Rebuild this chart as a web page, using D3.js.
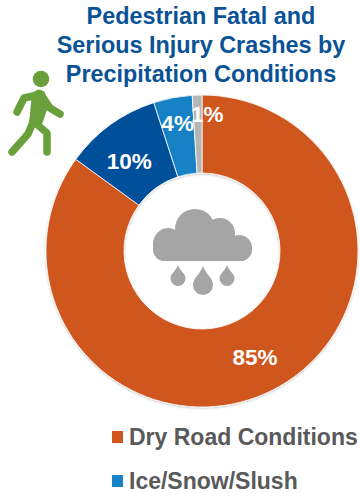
<!DOCTYPE html>
<html><head><meta charset="utf-8">
<script src="https://cdnjs.cloudflare.com/ajax/libs/d3/7.8.5/d3.min.js"></script>
<style>html,body{margin:0;padding:0;background:#fff}svg{display:block}text{font-family:"Liberation Sans",Arial,sans-serif;font-weight:bold}</style>
</head><body><svg id="c" width="360" height="493"></svg>
<script>
const titleLines = ["Pedestrian Fatal and","Serious Injury Crashes by","Precipitation Conditions"];
const categories = ["Dry Road Conditions","Wet Road Conditions","Ice/Snow/Slush","Other"];
const values = [85,10,4,1];
const colors = ["#cf561f","#044f9b","#1782c5","#b5b5b5"];
const labels = ["85%","10%","4%","1%"];
const legendItems = ["Dry Road Conditions","Ice/Snow/Slush"];

const svg = d3.select("#c");
const defs = svg.append("defs");
const f = defs.append("filter").attr("id","sh").attr("x","-10%").attr("y","-10%").attr("width","120%").attr("height","120%");
f.append("feDropShadow").attr("dx",0).attr("dy",1).attr("stdDeviation",1).attr("flood-color","#000").attr("flood-opacity",0.22);

svg.append("g").selectAll("text").data(titleLines).join("text")
  .attr("x",201).attr("y",(d,i)=>24+i*29).attr("text-anchor","middle")
  .attr("font-size",23.4).attr("fill","#0a5296").text(d=>d);

const cx=202, cy=251, R=156, r0=78;
const pie=d3.pie().sort(null).value(d=>d)(values);
const arc=d3.arc().innerRadius(r0).outerRadius(R);
const g=svg.append("g").attr("transform",`translate(${cx},${cy})`);
g.append("g").attr("filter","url(#sh)").selectAll("path").data(pie).join("path")
  .attr("d",arc).attr("fill",(d,i)=>colors[i]).attr("stroke","#fff").attr("stroke-width",0.8);

const labelR=[118,116,130,137], labelShift=[0.005,-0.05,0,0.07];
g.selectAll("text.l").data(pie).join("text").attr("class","l")
  .attr("transform",(d,i)=>{const a=(d.startAngle+d.endAngle)/2+labelShift[i];
     return `translate(${Math.sin(a)*labelR[i]},${-Math.cos(a)*labelR[i]})`;})
  .attr("text-anchor","middle").attr("dy","0.36em").attr("font-size",22.5).attr("fill","#fff")
  .text((d,i)=>labels[i]);

// cloud icon
const cloud=svg.append("g").attr("fill","#a5a5a5");
[[168,244,15,16],[195,229,20,20],[220,233,15,15],[239,248,13,13]].forEach(c=>
  cloud.append("ellipse").attr("cx",c[0]).attr("cy",c[1]).attr("rx",c[2]).attr("ry",c[3]));
cloud.append("rect").attr("x",180).attr("y",235).attr("width",45).attr("height",20);
cloud.append("rect").attr("x",153).attr("y",238).attr("width",99).attr("height",23).attr("rx",11.5);
const drop=(x,y,w,h)=>`M${x},${y}C${x+w*0.3},${y+h*0.3} ${x+w},${y+h*0.4} ${x+w},${y+h-w}A${w},${w} 0 0 1 ${x-w},${y+h-w}C${x-w},${y+h*0.4} ${x-w*0.3},${y+h*0.3} ${x},${y}Z`;
[[178,265,7.5,21],[203,266,10,29],[227,265,7.5,21]].forEach(d=>cloud.append("path").attr("d",drop(...d)));

// walker icon
const w=svg.append("g");
w.append("circle").attr("cx",41).attr("cy",79).attr("r",8.3).attr("fill","#69a03c");
w.append("path").attr("d","M38,95 L24,98 L17,112 M42,96 L50,108 L60,114 M33,122 L28,134 L12,152 M33,121 L47,133 L47,152")
 .attr("fill","none").attr("stroke","#69a03c").attr("stroke-width",7.5).attr("stroke-linecap","round").attr("stroke-linejoin","round");
w.append("path").attr("d","M32,93 L38,89.5 Q45,89.5 46,96 L47,110 L41,127 L29,125 L31,103Z").attr("fill","#69a03c");

// legend
const lg=svg.append("g").selectAll("g").data(legendItems).join("g")
  .attr("transform",(d,i)=>`translate(112,${437+i*44})`);
lg.append("rect").attr("x",0).attr("y",-6).attr("width",11).attr("height",12)
  .attr("fill",d=>colors[categories.indexOf(d)]);
lg.append("text").attr("x",17).attr("dy","0.36em").attr("font-size",23).attr("fill","#595959").text(d=>d);
</script></body></html>
